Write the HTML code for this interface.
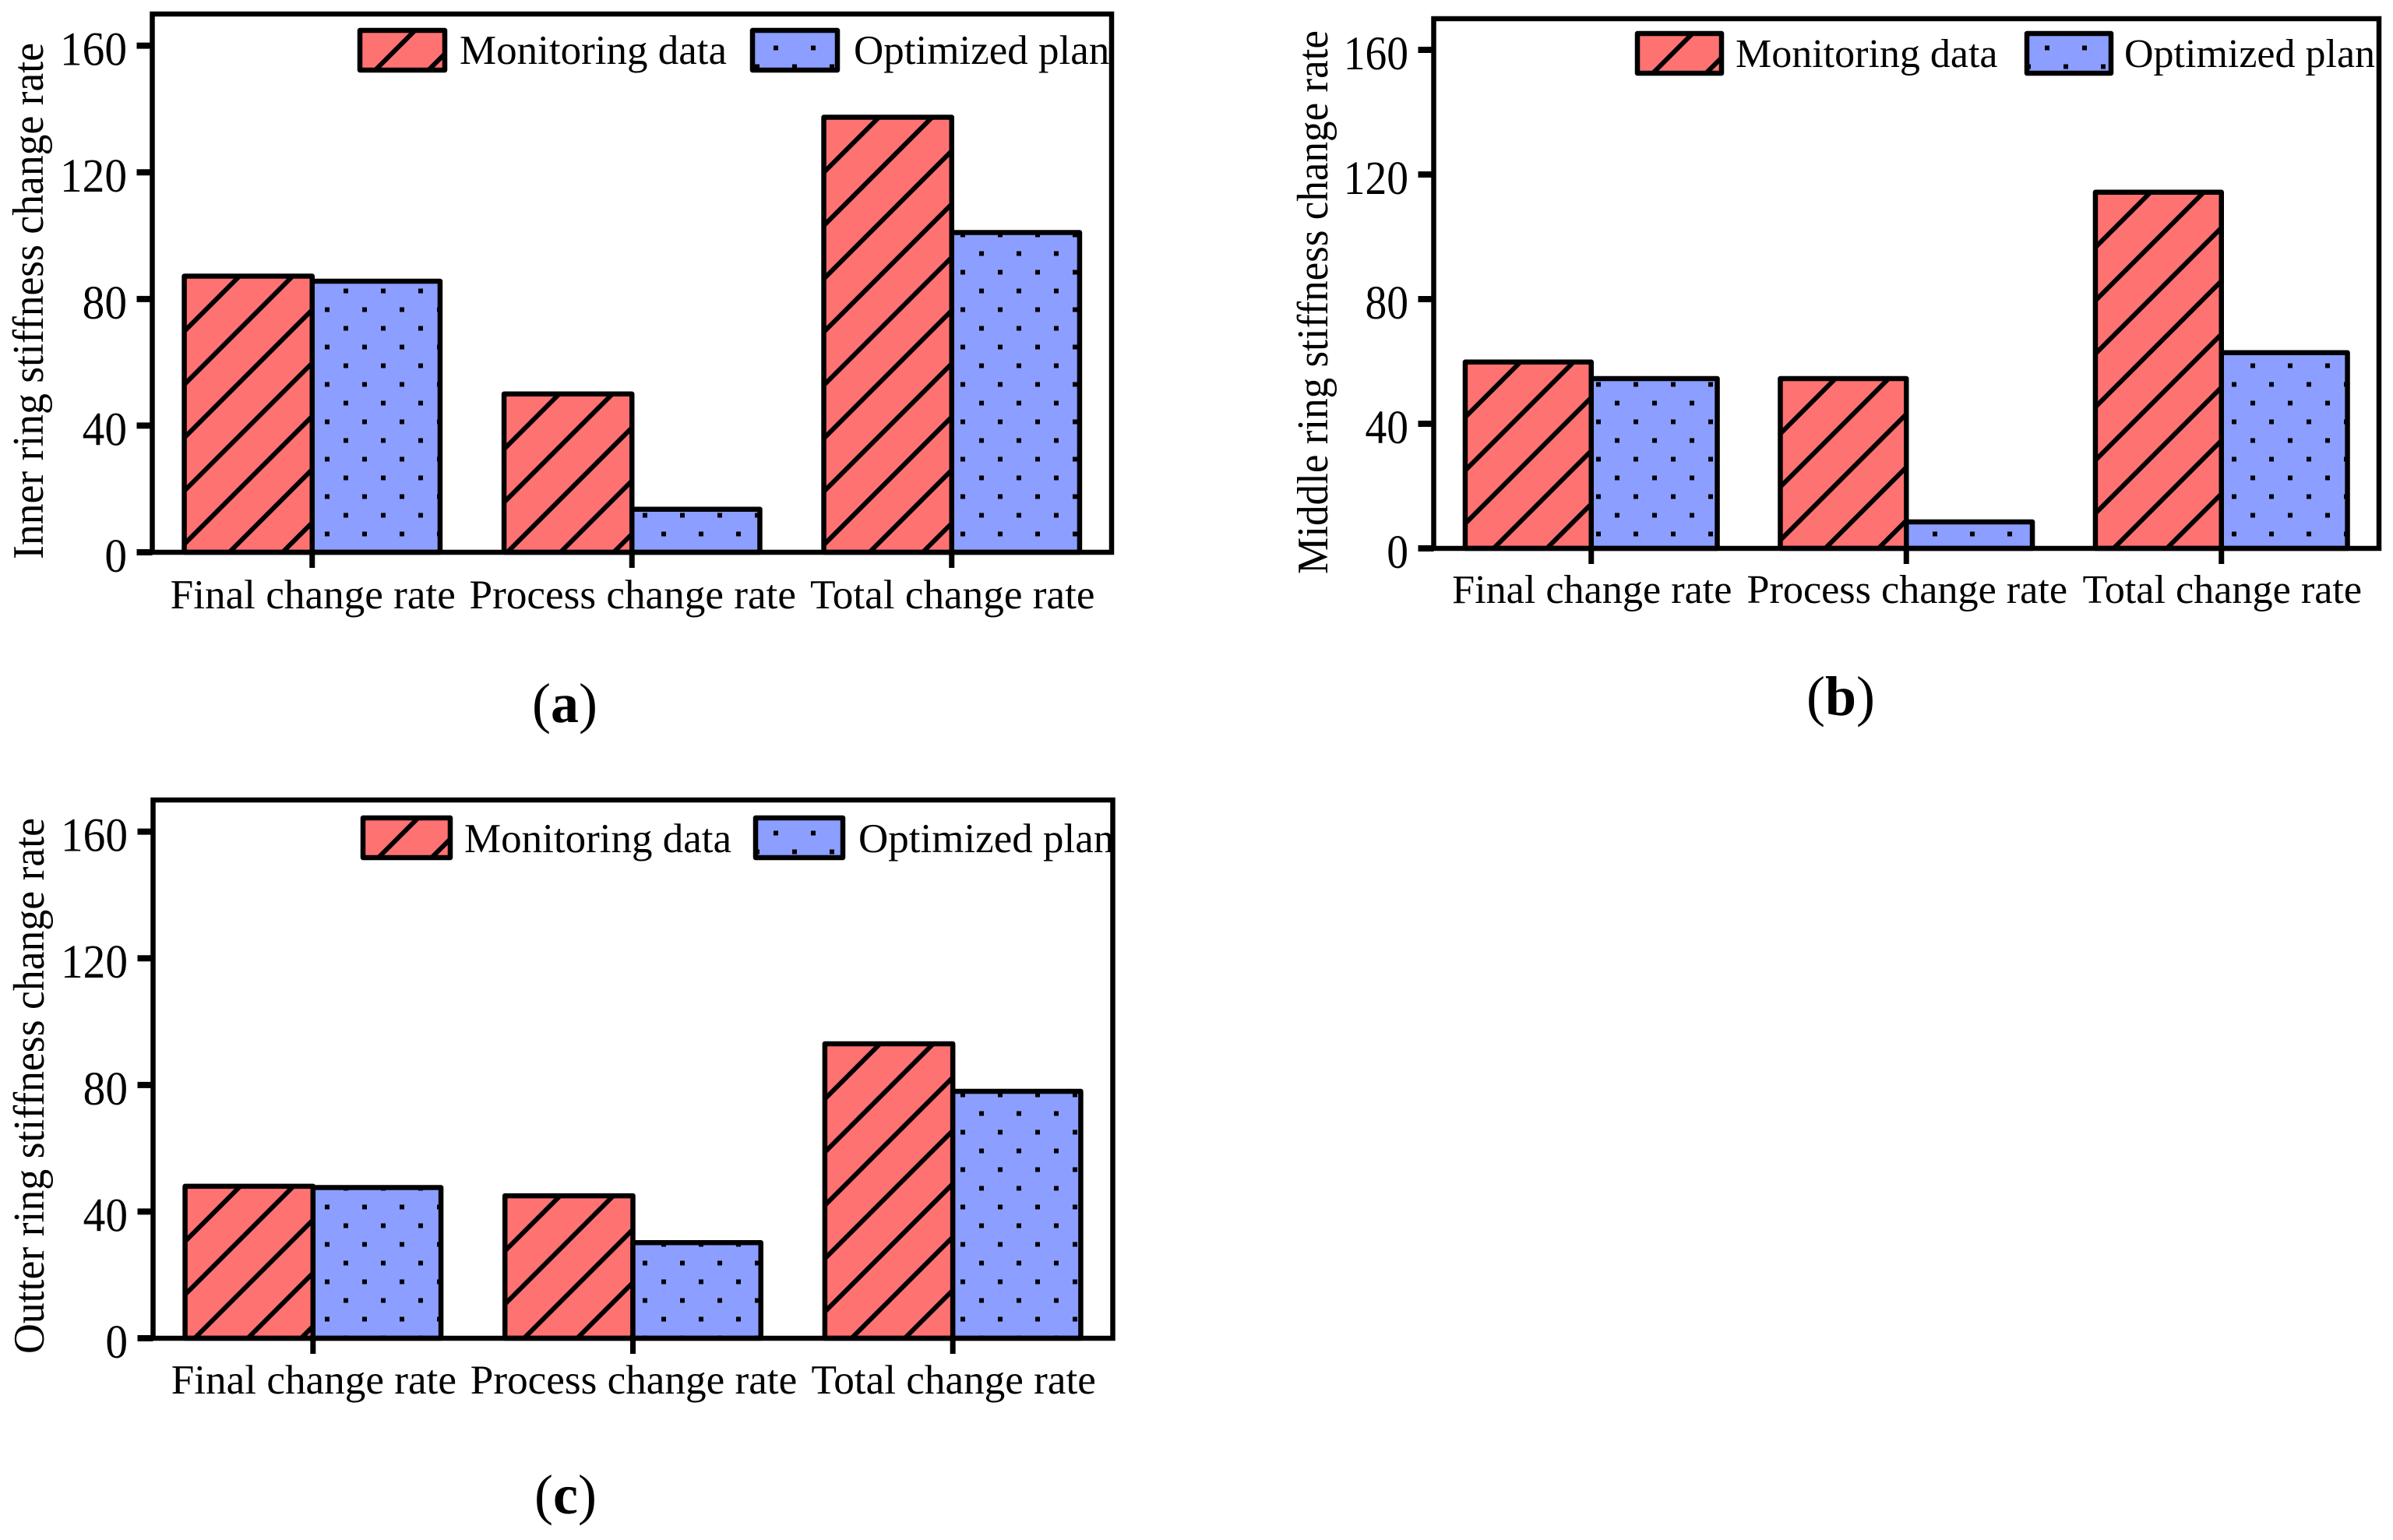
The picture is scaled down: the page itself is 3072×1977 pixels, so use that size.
<!DOCTYPE html>
<html lang="en">
<head>
<meta charset="utf-8">
<title>Ring stiffness change rate charts</title>
<style>
  html, body { margin: 0; padding: 0; background: #fff; }
  svg { display: block; }
  text { font-family: "Liberation Serif", serif; fill: #000; }
</style>
</head>
<body>
<svg id="figure" xmlns="http://www.w3.org/2000/svg" width="3072" height="1977" viewBox="0 0 3072 1977">
  <rect x="0" y="0" width="3072" height="1977" fill="#ffffff"></rect>
  <defs>
    <pattern id="dot-pattern" patternUnits="userSpaceOnUse" x="0" y="0" width="48" height="48">
      <rect x="33" y="10.5" width="6" height="6" fill="#000"></rect>
      <rect x="9" y="34.5" width="6" height="6" fill="#000"></rect>
    </pattern>
  </defs>
</svg>
<script>
const categories = ["Final change rate", "Process change rate", "Total change rate"];
const seriesNames = ["Monitoring data", "Optimized plan"];
const yTickValues = [0, 40, 80, 120, 160];
const yAxisMax = 170;

const innerMonitoring = [87.2, 50, 137.4];
const innerOptimized = [85.6, 13.6, 101];
const middleMonitoring = [59.8, 54.5, 114.3];
const middleOptimized = [54.5, 8.5, 62.8];
const outerMonitoring = [48, 45, 93];
const outerOptimized = [47.6, 30.2, 78];

const RED = "#ff7272";
const BLUE = "#8c9eff";
const NS = "http://www.w3.org/2000/svg";
const HATCH_STEP = 68.3;
const figure = document.getElementById("figure");
let clipCounter = 0;

function make(tag, parent, attrs) {
  const el = document.createElementNS(NS, tag);
  for (const k in attrs) el.setAttribute(k, attrs[k]);
  parent.appendChild(el);
  return el;
}

function drawHatch(parent, left, top, width, height) {
  const id = "hatch-clip-" + (++clipCounter);
  const clip = make("clipPath", parent, { id: id });
  make("rect", clip, { x: left, y: top, width: width, height: height });
  const group = make("g", parent, { "clip-path": "url(#" + id + ")", stroke: "#000", "stroke-width": 6 });
  
  
  const bottom = top + height;
  const right = left + width;
  for (let c = left + top + 2.5; c <= right + bottom; c += HATCH_STEP) {
    make("line", group, { x1: c - top, y1: top, x2: c - bottom, y2: bottom });
  }
}

function drawSwatch(parent, isRed, left, top, width, height) {
  make("rect", parent, { x: left, y: top, width: width, height: height, fill: isRed ? RED : BLUE });
  if (isRed) {
    drawHatch(parent, left, top, width, height);
  } else {
    make("rect", parent, { x: left, y: top, width: width, height: height, fill: "url(#dot-pattern)" });
  }
  make("rect", parent, { x: left, y: top, width: width, height: height, fill: "none", stroke: "#000", "stroke-width": 6.5, "stroke-linejoin": "round" });
}

function drawPanel(p) {
  const panel = make("g", figure, {});
  
  

  const step = (p.right - p.left) / categories.length;
  const xAxis = function (i) { return p.left + (i + 0.5) * step; };
  const yAxis = function (v) { return p.base - v * (p.base - p.top) / yAxisMax; };
  const barWidth = step * 0.4;

  // bars
  categories.forEach(function (cat, i) {
    const cx = xAxis(i);
    const vals = [p.monitoring[i], p.optimized[i]];
    vals.forEach(function (v, s) {
      const bar = make("g", panel, {});
      
      
      const yTop = yAxis(v);
      drawSwatch(bar, s === 0, s === 0 ? cx - barWidth : cx, yTop, barWidth, p.base - yTop);
    });
  });

  // legend
  const legend = make("g", panel, {});
  
  
  seriesNames.forEach(function (label, s) {
    const entry = make("g", legend, {});
    
    
    drawSwatch(entry, s === 0, p.legendX[s], p.legendY, p.legendW, p.legendH);
    const t = make("text", entry, { x: p.legendTextX[s], y: p.legendBase, "font-size": p.font });
    t.textContent = label;
    
    
  });

  // frame
  const frame = make("rect", panel, { x: p.left, y: p.top, width: p.right - p.left, height: p.base - p.top, fill: "none", stroke: "#000", "stroke-width": 6.5 });
  
  

  // y axis
  const yTicks = make("g", panel, {});
  
  
  yTickValues.forEach(function (v) {
    const y = yAxis(v);
    const tick = make("line", yTicks, { x1: p.left - 20, y1: y, x2: p.left, y2: y, stroke: "#000", "stroke-width": 8 });
    
    
    const t = make("text", yTicks, {
      "font-size": 61, "text-anchor": "end",
      transform: "translate(" + (p.left - 32.5) + "," + (y + 25) + ") scale(" + p.tickScale + ",1)"
    });
    t.textContent = String(v);
    
    
  });

  // x axis
  const xTicks = make("g", panel, {});
  
  
  categories.forEach(function (cat, i) {
    const x = xAxis(i);
    const tick = make("line", xTicks, { x1: x, y1: p.base, x2: x, y2: p.base + 20, stroke: "#000", "stroke-width": 7 });
    
    
    const t = make("text", xTicks, { x: x + 1, y: p.xLabelBase, "font-size": p.font + 0.2, "text-anchor": "middle" });
    t.textContent = cat;
    
    
  });

  // y title
  const title = make("text", panel, {
    "font-size": 56, textLength: p.titleLength, lengthAdjust: "spacingAndGlyphs",
    transform: "translate(" + p.titleX + "," + p.titleY + ") rotate(-90)"
  });
  title.textContent = p.title;
  
  

  // caption
  const cap = make("text", panel, { x: p.capX, y: p.capY, "font-size": 72, "text-anchor": "middle" });
  
  
  const a = make("tspan", cap, {}); a.textContent = "(";
  const b = make("tspan", cap, { "font-weight": "bold" }); b.textContent = p.capLetter;
  const c = make("tspan", cap, {}); c.textContent = ")";
}

drawPanel({
  name: "panel-a-inner-ring", title: "Inner ring stiffness change rate",
  monitoring: innerMonitoring, optimized: innerOptimized,
  left: 195.5, right: 1427, top: 18, base: 709,
  font: 53, tickScale: 0.94,
  legendX: [462, 966], legendY: 39, legendW: 109, legendH: 51,
  legendTextX: [590, 1096], legendBase: 82,
  xLabelBase: 781, titleX: 55, titleY: 718, titleLength: 663,
  capX: 725, capY: 927, capLetter: "a"
});

drawPanel({
  name: "panel-b-middle-ring", title: "Middle ring stiffness change rate",
  monitoring: middleMonitoring, optimized: middleOptimized,
  left: 1840.5, right: 3054, top: 24, base: 704,
  font: 52, tickScale: 0.91,
  legendX: [2102, 2602], legendY: 43, legendW: 108, legendH: 51,
  legendTextX: [2228, 2727], legendBase: 86,
  xLabelBase: 774, titleX: 1704, titleY: 737, titleLength: 698,
  capX: 2363, capY: 918, capLetter: "b"
});

drawPanel({
  name: "panel-c-outer-ring", title: "Outter ring stiffness change rate",
  monitoring: outerMonitoring, optimized: outerOptimized,
  left: 196.5, right: 1428.5, top: 1027, base: 1718,
  font: 53, tickScale: 0.94,
  legendX: [466, 970], legendY: 1050, legendW: 112, legendH: 51,
  legendTextX: [596, 1102], legendBase: 1094,
  xLabelBase: 1789, titleX: 56, titleY: 1738, titleLength: 688,
  capX: 726, capY: 1943, capLetter: "c"
});
</script>
</body>
</html>
